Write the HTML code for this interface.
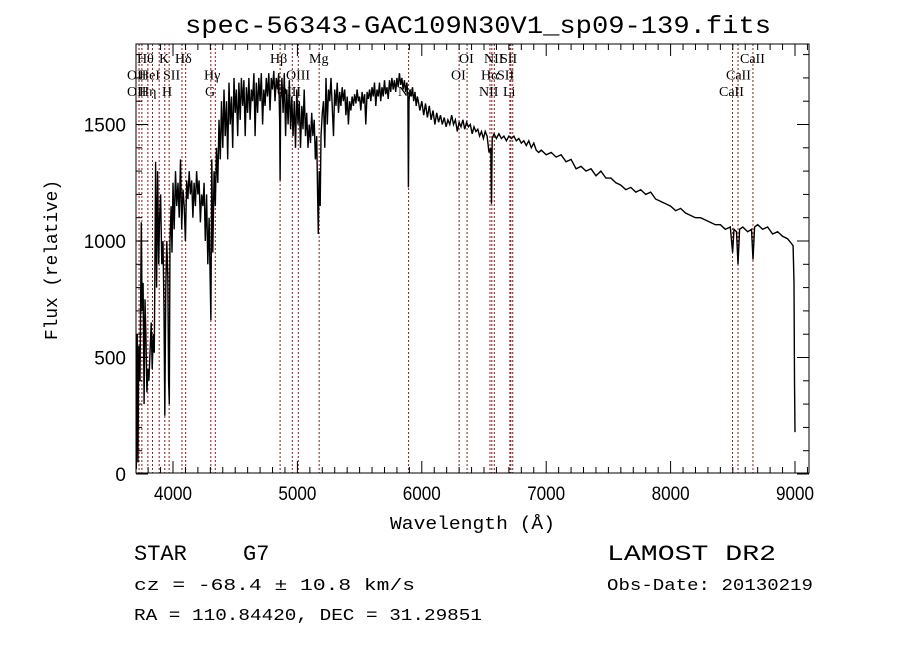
<!DOCTYPE html>
<html><head><meta charset="utf-8"><style>
body{margin:0;background:#fff;}
svg{display:block;}
text{font-family:"Liberation Sans",sans-serif;fill:#000;}
.ser{font-family:"Liberation Serif",serif;font-size:14px;}
.mono{font-family:"Liberation Mono",monospace;}
</style></head><body>
<svg id="chart" width="900" height="649" viewBox="0 0 900 649">
<rect width="900" height="649" fill="#fff"/>
<text x="478" y="33" text-anchor="middle" font-size="25" class="mono" textLength="586" lengthAdjust="spacingAndGlyphs">spec-56343-GAC109N30V1_sp09-139.fits</text>
<g id="lines"></g>
<g id="lbls"></g>
<g id="ticks"></g>
<path id="spec" fill="none" stroke="#000" stroke-width="1.4"/>
<rect x="136" y="44" width="673" height="429" fill="none" stroke="#000" stroke-width="1"/>
<text x="390" y="529" font-size="18" class="mono" textLength="165" lengthAdjust="spacingAndGlyphs">Wavelength (Å)</text>
<text transform="translate(57,260) rotate(-90)" text-anchor="middle" font-size="18" class="mono" textLength="160" lengthAdjust="spacingAndGlyphs">Flux (relative)</text>
<text x="134" y="560" font-size="22" class="mono">STAR</text>
<text x="243" y="560" font-size="22" class="mono">G7</text>
<text x="134" y="590" font-size="17" class="mono" textLength="281" lengthAdjust="spacingAndGlyphs">cz = -68.4 ± 10.8 km/s</text>
<text x="134" y="620" font-size="17" class="mono" textLength="348" lengthAdjust="spacingAndGlyphs">RA = 110.84420, DEC =  31.29851</text>
<text x="607" y="560" font-size="22" class="mono" textLength="169" lengthAdjust="spacingAndGlyphs">LAMOST DR2</text>
<text x="607" y="590" font-size="17" class="mono" textLength="206" lengthAdjust="spacingAndGlyphs">Obs-Date: 20130219</text>
</svg>
<script>
const wave=[3705,3712,3718,3725,3735,3745,3752,3760,3768,3775,3782,3790,3798,3806,3815,3825,3833,3842,3850,3860,3868,3876,3885,3892,3900,3910,3920,3928,3934,3942,3950,3958,3965,3970,3976,3985,3992,4000,4010,4020,4030,4040,4050,4060,4070,4080,4090,4100,4110,4120,4130,4140,4150,4160,4170,4180,4190,4200,4210,4220,4230,4240,4250,4260,4270,4280,4290,4300,4305,4312,4320,4330,4340,4350,4360,4370,4380,4390,4400,4410,4420,4430,4440,4450,4460,4470,4480,4490,4500,4510,4520,4530,4540,4550,4560,4570,4580,4590,4600,4610,4620,4630,4640,4650,4660,4670,4680,4690,4700,4710,4720,4730,4740,4750,4760,4770,4780,4790,4800,4810,4820,4830,4840,4850,4858,4861,4866,4875,4885,4895,4905,4915,4925,4935,4945,4955,4965,4975,4985,4995,5005,5015,5025,5035,5045,5055,5065,5075,5085,5095,5105,5115,5125,5135,5145,5155,5162,5168,5175,5183,5190,5200,5210,5220,5230,5240,5250,5260,5270,5280,5290,5300,5310,5320,5330,5340,5350,5360,5370,5380,5390,5400,5410,5420,5430,5440,5450,5460,5470,5480,5490,5500,5510,5520,5530,5540,5550,5560,5570,5580,5590,5600,5610,5620,5630,5640,5650,5660,5670,5680,5690,5700,5710,5720,5730,5740,5750,5760,5770,5780,5790,5800,5810,5820,5830,5840,5850,5860,5870,5880,5888,5892,5897,5905,5915,5925,5935,5945,5955,5965,5975,5985,6000,6015,6030,6045,6060,6075,6090,6105,6120,6135,6150,6165,6180,6195,6210,6225,6240,6255,6270,6285,6300,6315,6330,6345,6360,6375,6390,6405,6420,6435,6450,6465,6480,6495,6510,6525,6540,6555,6560,6566,6580,6600,6620,6640,6660,6680,6700,6720,6740,6760,6780,6800,6820,6840,6860,6880,6900,6920,6940,6960,7000,7040,7080,7120,7160,7200,7240,7280,7320,7360,7400,7440,7480,7520,7560,7600,7640,7680,7720,7760,7800,7840,7880,7920,7960,8000,8040,8080,8120,8160,8200,8240,8280,8320,8360,8400,8440,8480,8498,8510,8530,8542,8555,8580,8620,8650,8662,8675,8700,8740,8780,8820,8860,8900,8940,8970,8985,8992,8996,9000];
const flux=[20,600,50,550,400,1080,700,820,300,750,600,350,450,400,520,650,450,600,520,1340,800,1300,900,1100,1200,900,1000,700,250,800,1000,850,400,300,1000,1150,950,1250,1050,1300,1150,1250,1100,1350,1050,1220,1150,1000,1260,1180,1300,1200,1260,1100,1250,1150,1300,1200,1260,1080,1200,1150,1250,1000,1200,900,1100,800,660,1350,950,1300,1150,1400,1250,1520,1350,1600,1400,1650,1450,1600,1350,1680,1500,1620,1400,1700,1550,1650,1450,1680,1520,1700,1580,1690,1450,1660,1550,1700,1520,1650,1600,1720,1450,1680,1550,1700,1600,1720,1500,1650,1580,1700,1620,1720,1560,1700,1650,1730,1600,1700,1650,1720,1500,1260,1600,1700,1550,1720,1450,1650,1500,1690,1480,1620,1450,1600,1400,1650,1500,1600,1400,1580,1480,1650,1450,1550,1400,1500,1420,1550,1450,1520,1350,1450,1200,1030,1300,1150,1450,1550,1600,1400,1700,1500,1650,1600,1700,1580,1450,1650,1580,1680,1550,1640,1580,1660,1600,1650,1540,1620,1500,1600,1560,1620,1580,1630,1590,1650,1600,1620,1560,1640,1590,1630,1500,1640,1610,1650,1600,1660,1620,1680,1580,1650,1620,1680,1600,1660,1620,1690,1630,1660,1610,1690,1640,1700,1650,1690,1640,1700,1660,1720,1670,1700,1650,1690,1640,1680,1620,1230,1600,1650,1620,1660,1600,1640,1580,1620,1590,1560,1600,1540,1590,1530,1580,1520,1560,1500,1550,1510,1540,1500,1530,1490,1520,1500,1540,1500,1520,1470,1510,1490,1520,1480,1510,1490,1500,1460,1490,1470,1480,1450,1470,1440,1470,1450,1380,1400,1160,1440,1460,1440,1460,1440,1450,1430,1450,1440,1450,1430,1440,1420,1430,1410,1430,1400,1420,1390,1380,1390,1370,1380,1360,1370,1340,1350,1310,1320,1300,1310,1280,1300,1270,1270,1250,1240,1220,1230,1210,1220,1200,1210,1180,1170,1160,1150,1130,1140,1120,1110,1100,1100,1090,1080,1070,1070,1050,1060,950,1050,1040,900,1050,1060,1040,1050,920,1060,1070,1050,1060,1030,1040,1020,1010,990,980,820,400,180];
const xTicks=[4000,5000,6000,7000,8000,9000];
const yTicks=[0,500,1000,1500];
const lineWaves=[3727,3750,3798,3835,3889,3934,3969,4072,4102,4304,4340,4861,4959,5007,5175,5894,6300,6364,6548,6563,6583,6708,6716,6731,8498,8542,8662];
const labelText=['Hθ','K','Hδ','Hβ','Mg','OI','NII','SII','CaII','OII','HeI','SII','Hγ','OIII','OI','Hα','SII','CaII','OII','Hη','H','G','OIII','Na','NII','Li','CaII'];
const labelX=[137,159,175,270,309,459,484,500,740,127,139,163,204,286,451,481,497,726,127,139,162,205,277,398,479,503,719];
const labelRow=[0,0,0,0,0,0,0,0,0,1,1,1,1,1,1,1,1,1,2,2,2,2,2,2,2,2,2];

const X=w=>173+(w-4000)*0.1244;
const Y=f=>474-f*0.233;
const NS='http://www.w3.org/2000/svg';
function mk(tag,attrs,parent){const e=document.createElementNS(NS,tag);for(const k in attrs)e.setAttribute(k,attrs[k]);parent.appendChild(e);return e;}

let d='';
for(let i=0;i<wave.length;i++){d+=(i?'L':'M')+X(wave[i]).toFixed(1)+' '+Math.max(44,Y(flux[i])).toFixed(1);}
document.getElementById('spec').setAttribute('d',d);

const lg=document.getElementById('lines');
lineWaves.forEach(w=>{
  const l=mk('line',{x1:X(w),x2:X(w),y1:44,y2:473,stroke:'#8b1a1a','stroke-width':1,'stroke-dasharray':'2,2'},lg);
  
  
});
const lb=document.getElementById('lbls');
labelText.forEach((t,i)=>{
  const e=mk('text',{x:labelX[i],y:63+labelRow[i]*16.5,class:'ser'},lb);
  e.textContent=t;
  
  
});

const tg=document.getElementById('ticks');
for(let w=3800;w<=9100;w+=100){
  const maj=w%1000===0, L=maj?12:6, x=X(w);
  if(x<136||x>809)continue;
  mk('line',{x1:x,x2:x,y1:473,y2:473-L,stroke:'#000'},tg);
  mk('line',{x1:x,x2:x,y1:44,y2:44+L,stroke:'#000'},tg);
}
xTicks.forEach(w=>{
  const t=mk('text',{x:X(w),y:500,'text-anchor':'middle','font-size':19,textLength:38,lengthAdjust:'spacingAndGlyphs'},tg);
  t.textContent=w;
  
  
});
for(let f=0;f<=1800;f+=100){
  const maj=f%500===0, L=maj?12:6, y=Y(f);
  if(y<44)continue;
  mk('line',{x1:136,x2:136+L,y1:y,y2:y,stroke:'#000'},tg);
  mk('line',{x1:809,x2:809-L,y1:y,y2:y,stroke:'#000'},tg);
}
yTicks.forEach(f=>{
  const t=mk('text',{x:126,y:Y(f)+7,'text-anchor':'end','font-size':19},tg);
  t.textContent=f;
  
  
});
</script>
</body></html>
